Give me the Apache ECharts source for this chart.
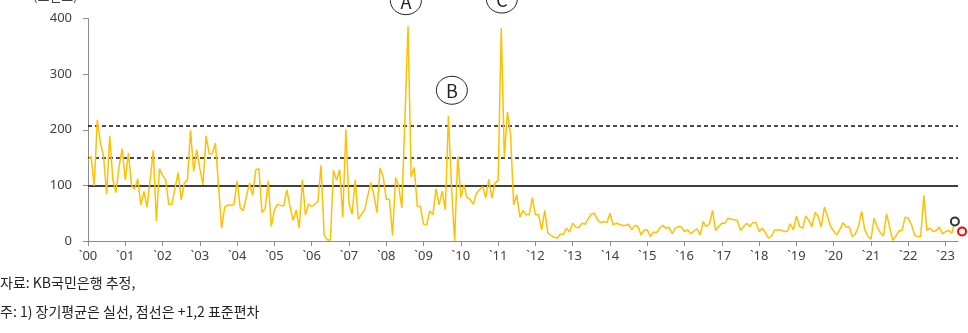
<!DOCTYPE html>
<html>
<head>
<meta charset="utf-8">
<script src="https://cdn.jsdelivr.net/npm/echarts@6/dist/echarts.min.js"></script>
<style>
html,body{margin:0;padding:0;background:#fff;}
#c{width:968px;height:333px;}
</style>
</head>
<body>
<div id="c"></div>
<script>
// Monthly index values, Jan 2000 onwards (one entry per month)
const indexValues = [
  145,152,99,218,176,153,84,189,110,87,134,166,
  110,158,101,93,112,65,89,61,110,163,36,130,
  118,110,66,66,95,123,74,104,110,199,125,164,
  130,101,189,157,157,176,100,23,61,65,64,66,
  108,59,55,80,104,82,128,130,51,58,108,26,
  56,66,64,63,92,62,37,56,23,110,47,66,
  62,66,71,136,11,2,2,127,109,128,43,201,
  68,48,110,39,48,56,80,105,83,51,131,116,
  75,75,10,114,98,60,220,386,115,132,62,62,
  30,29,54,47,94,65,90,56,225,95,0,152,
  78,101,78,75,66,86,92,98,78,111,77,104,
  109,383,150,232,191,65,83,43,55,47,47,78,
  47,47,20,55,14,10,7,5,12,12,23,16,
  32,25,24,32,30,40,48,50,38,33,35,33,
  50,29,32,30,28,28,30,20,28,26,11,20,
  20,8,16,15,23,28,23,25,13,23,26,25,
  17,20,13,18,22,11,35,26,31,55,19,26,
  32,32,41,39,38,37,19,26,32,26,33,33,
  17,23,15,5,9,20,20,20,17,17,31,20,
  45,26,23,45,37,26,51,45,25,61,44,26,
  18,11,21,33,25,25,8,13,27,53,20,9,
  3,41,25,15,9,49,25,1,9,18,19,43,
  41,30,11,8,8,82,19,23,17,19,25,13,
  17,19,14,35
];
const yearLabels = ['`00','`01','`02','`03','`04','`05','`06','`07','`08','`09','`10','`11',
                    '`12','`13','`14','`15','`16','`17','`18','`19','`20','`21','`22','`23'];
const longTermMean = 100;
const plusOneSd = 150;
const plusTwoSd = 207;
const latestPoint = [279, 35];
const forecastPoint = [281.3, 17];
const annotations = [
  {label: 'A', at: [102.3, 432]},
  {label: 'B', at: [117.1, 271]},
  {label: 'C', at: [133.2, 435]}
];
const footnotes = ['자료: KB국민은행 추정,', '주: 1) 장기평균은 실선, 점선은 +1,2 표준편차'];

const lineData = indexValues.map((v, i) => [i, v]);
const FONT = '"Noto Sans CJK KR", "Noto Sans", sans-serif';
const LABEL_FONT = '"Noto Sans", "DejaVu Sans", sans-serif';

const chart = echarts.init(document.getElementById('c'), null, {renderer: 'canvas'});
const option = {
  animation: false,
  backgroundColor: '#fff',
  grid: {left: 88, right: 10, top: 18.5, bottom: 92},
  xAxis: {
    type: 'value', min: 0, max: 280, interval: 12,
    axisLine: {show: true, lineStyle: {color: '#8c8c8c', width: 1}},
    axisTick: {show: true, length: 5, lineStyle: {color: '#8c8c8c'}},
    axisLabel: {
      color: '#404040', fontSize: 13, fontFamily: LABEL_FONT, margin: 9,
      showMaxLabel: false,
      formatter: v => (v % 12 === 0 && yearLabels[v / 12]) ? yearLabels[v / 12] : ''
    },
    splitLine: {show: false}
  },
  yAxis: {
    type: 'value', min: 0, max: 400, interval: 100,
    axisLine: {show: true, lineStyle: {color: '#8c8c8c', width: 1}},
    axisTick: {show: true, length: 5, lineStyle: {color: '#8c8c8c'}},
    axisLabel: {color: '#404040', fontSize: 13, fontFamily: LABEL_FONT, margin: 16},
    splitLine: {show: false}
  },
  series: [
    {
      type: 'line', data: lineData, showSymbol: false, symbol: 'none',
      lineStyle: {color: '#FFC000', width: 1.5},
      z: 3,
      markLine: {
        silent: true, symbol: 'none', label: {show: false},
        animation: false,
        data: [
          {yAxis: longTermMean, lineStyle: {color: '#404040', width: 2, type: 'solid'}},
          {yAxis: plusOneSd, lineStyle: {color: '#111', width: 1.5, type: [4, 3]}},
          {yAxis: plusTwoSd, lineStyle: {color: '#111', width: 1.5, type: [4, 3]}}
        ],
        z: 2
      }
    },
    {
      type: 'line', data: [latestPoint], showSymbol: true, symbol: 'circle', symbolSize: 8,
      clip: false, lineStyle: {width: 0},
      itemStyle: {color: '#ffffff', borderColor: '#333333', borderWidth: 2}, z: 6
    },
    {
      type: 'line', data: [forecastPoint], showSymbol: true, symbol: 'circle', symbolSize: 8,
      clip: false, lineStyle: {width: 0},
      itemStyle: {color: '#ffffff', borderColor: '#ff0000', borderWidth: 2}, z: 6
    }
  ]
};
chart.setOption(option);

const graphics = [];
annotations.forEach(a => {
  const p = chart.convertToPixel({gridIndex: 0}, a.at);
  graphics.push({
    type: 'ellipse', shape: {cx: p[0], cy: p[1], rx: 15.5, ry: 14},
    style: {fill: 'rgba(0,0,0,0)', stroke: '#222', lineWidth: 1}, z: 10
  });
  graphics.push({
    type: 'text', x: p[0], y: p[1] + 1,
    style: {text: a.label, fill: '#222', font: '18px ' + FONT, align: 'center', verticalAlign: 'middle'}, z: 10
  });
});
graphics.push({
  type: 'text', x: 33, y: 3,
  style: {text: '(포인트)', fill: '#404040', font: '13px ' + FONT, align: 'left', verticalAlign: 'bottom'}
});
graphics.push({
  type: 'text', x: 0, y: 283,
  style: {text: footnotes[0], fill: '#222', font: '14px ' + FONT, align: 'left', verticalAlign: 'middle'}
});
graphics.push({
  type: 'text', x: 0, y: 312,
  style: {text: footnotes[1], fill: '#222', font: '14px ' + FONT, align: 'left', verticalAlign: 'middle'}
});
chart.setOption({graphic: graphics});
</script>
</body>
</html>
